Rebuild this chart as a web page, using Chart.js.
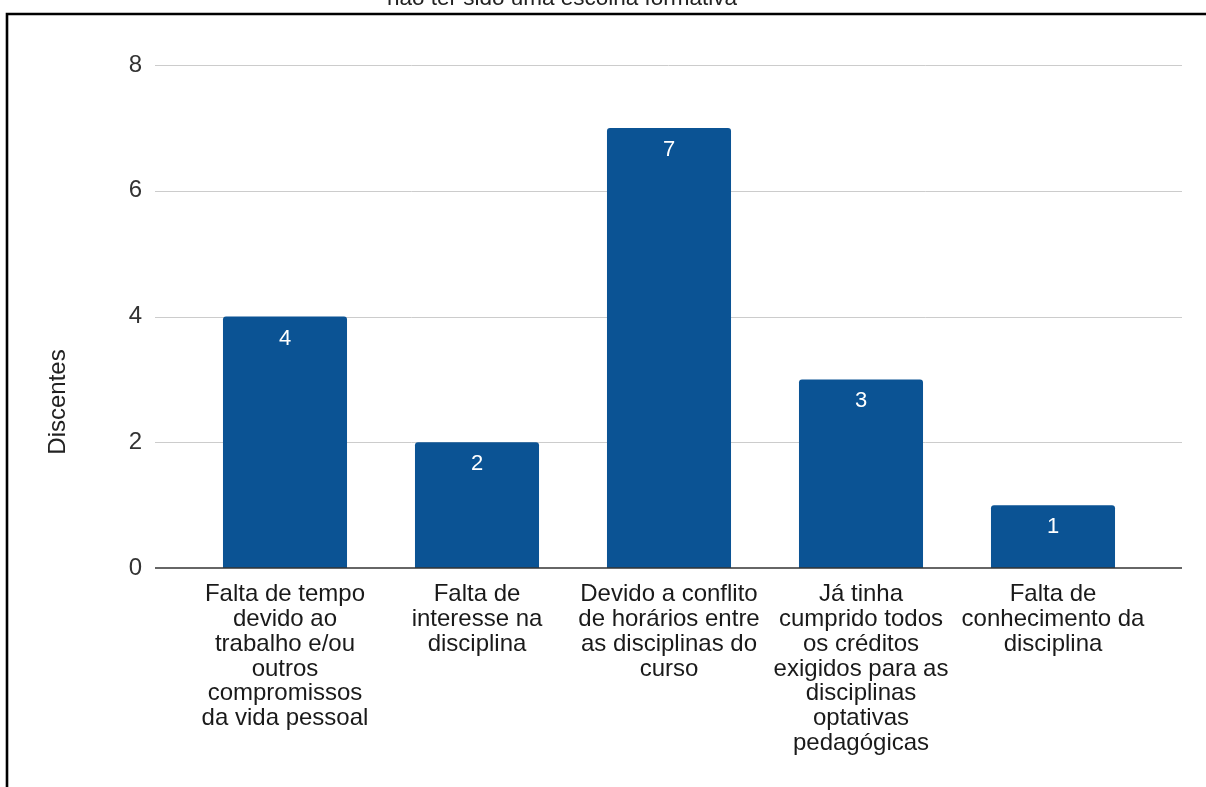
<!DOCTYPE html>
<html>
<head>
<meta charset="utf-8">
<script src="https://cdn.jsdelivr.net/npm/chart.js@4"></script>
<style>
  html, body { margin: 0; padding: 0; background: #fff; }
  canvas { display: block; }
</style>
</head>
<body>
<canvas id="motivosChart" width="1206" height="787"></canvas>
<script>
const motivos = [
  ['Falta de tempo', 'devido ao', 'trabalho e/ou', 'outros', 'compromissos', 'da vida pessoal'],
  ['Falta de', 'interesse na', 'disciplina'],
  ['Devido a conflito', 'de horários entre', 'as disciplinas do', 'curso'],
  ['Já tinha', 'cumprido todos', 'os créditos', 'exigidos para as', 'disciplinas', 'optativas', 'pedagógicas'],
  ['Falta de', 'conhecimento da', 'disciplina']
];
const discentes = [4, 2, 7, 3, 1];
const yTicks = [0, 2, 4, 6, 8];
const tituloFim = 'não ter sido uma escolha formativa';
const tituloY = 'Discentes';

const FONT = '"Liberation Sans", Arial, sans-serif';

// frame, clipped title line, y title and horizontal grid (wider than the bar area)
const backdrop = {
  id: 'backdrop',
  beforeDatasetsDraw(chart) {
    const c = chart.ctx;
    const y = chart.scales.y;
    c.save();
    c.strokeStyle = '#000';
    c.lineWidth = 2.6;
    c.beginPath();
    c.moveTo(7, chart.height + 5);
    c.lineTo(7, 14);
    c.lineTo(chart.width + 5, 14);
    c.stroke();

    c.fillStyle = '#222';
    c.font = '22.5px ' + FONT;
    c.textAlign = 'center';
    c.textBaseline = 'alphabetic';
    c.fillText(tituloFim, 562, 5);

    c.save();
    c.translate(58, 402);
    c.rotate(-Math.PI / 2);
    c.font = '24px ' + FONT;
    c.textBaseline = 'middle';
    c.fillText(tituloY, 0, 0);
    c.restore();

    c.strokeStyle = '#cccccc';
    c.lineWidth = 1;
    yTicks.forEach(v => {
      if (v === 0) return;
      const py = Math.round(y.getPixelForValue(v)) + 0.5;
      c.beginPath();
      c.moveTo(155, py);
      c.lineTo(1182, py);
      c.stroke();
    });
    c.restore();
  },
  afterDatasetsDraw(chart) {
    const c = chart.ctx;
    const py = chart.scales.y.getPixelForValue(0);
    c.save();
    c.strokeStyle = '#333';
    c.lineWidth = 1.6;
    c.beginPath();
    c.moveTo(155, py);
    c.lineTo(1182, py);
    c.stroke();

    // value inside the top of each bar
    const meta = chart.getDatasetMeta(0);
    c.fillStyle = '#fff';
    c.font = '22px ' + FONT;
    c.textAlign = 'center';
    c.textBaseline = 'middle';
    meta.data.forEach((bar, i) => {
      c.fillText(String(discentes[i]), bar.x, bar.y + 22);
    });
    c.restore();
  }
};

new Chart(document.getElementById('motivosChart'), {
  type: 'bar',
  data: {
    labels: motivos,
    datasets: [{
      data: discentes,
      backgroundColor: '#0b5394',
      borderRadius: 3,
      borderSkipped: 'start',
      categoryPercentage: 1,
      barPercentage: 0.646
    }]
  },
  options: {
    responsive: false,
    animation: false,
    layout: { padding: { top: 65, right: 57, left: 0, bottom: 0 } },
    plugins: {
      legend: { display: false },
      tooltip: { enabled: false }
    },
    scales: {
      x: {
        grid: { display: false, drawTicks: false },
        border: { display: false },
        ticks: {
          maxRotation: 0,
          autoSkip: false,
          padding: 14,
          color: '#1a1a1a',
          font: { family: FONT, size: 24, lineHeight: 1.035 }
        },
        afterFit(scale) { scale.height = 219; }
      },
      y: {
        min: 0,
        max: 8,
        grid: { display: false, drawTicks: false },
        border: { display: false },
        ticks: {
          stepSize: 2,
          padding: 47,
          color: '#333',
          font: { family: FONT, size: 24 }
        },
        afterFit(scale) { scale.width = 189; }
      }
    }
  },
  plugins: [backdrop]
});
</script>
</body>
</html>
